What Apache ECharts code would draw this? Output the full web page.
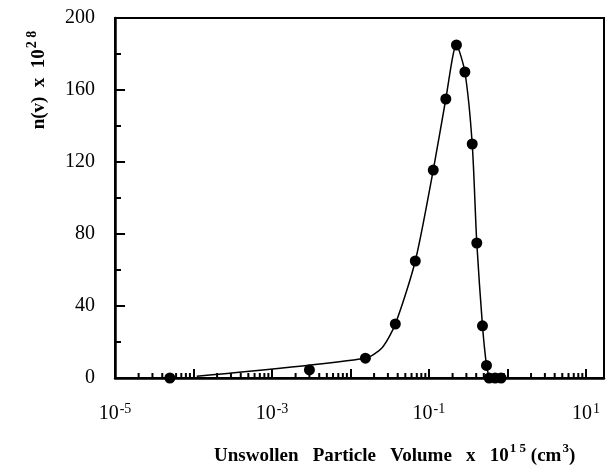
<!DOCTYPE html>
<html><head><meta charset="utf-8">
<script src="https://cdn.jsdelivr.net/npm/echarts@6/dist/echarts.min.js"></script>
<style>html,body{margin:0;padding:0;background:#fff}#c{width:607px;height:469px}</style>
</head><body><div id="c"></div>
<script>
// measured points (volume x 1e15 cm^3, n(v) x 1e28)
const pointVolumes = [5.0e-5, 0.0030, 0.0155, 0.0373, 0.067, 0.1135, 0.164, 0.224, 0.287, 0.356, 0.407, 0.481, 0.541, 0.585, 0.697, 0.83];
const pointCounts  = [0, 4.5, 11, 30, 65, 115.5, 155, 185, 170, 130, 75, 29, 7, 0, 0, 0];
// fitted curve drawn through the data
const curveVolumes = [1.1e-4, 0.0155, 0.0255, 0.0373, 0.067, 0.1135, 0.164, 0.224, 0.287, 0.356, 0.407, 0.481, 0.541, 0.585];
const curveCounts  = [1, 11, 17, 30, 65, 115.5, 155, 185, 170, 130, 75, 29, 7, 0];
// axes
const yTickValues = [0, 40, 80, 120, 160, 200];
const xLabelExponents = [-5, -3, -1, 1];
const xDecadeExponents = [-5, -4, -3, -2, -1, 0, 1];
const minorMultipliers = [2, 3, 4, 5, 6, 7, 8, 9];

const X_MIN = 1e-5, X_MAX = 17;
const minorTickVolumes = [];
xDecadeExponents.forEach(e => minorMultipliers.forEach(k => {
  const v = k * Math.pow(10, e);
  if (v < X_MAX) minorTickVolumes.push([v]);
}));

const serif = 'Liberation Serif';
const chart = echarts.init(document.getElementById('c'), null, {renderer: 'canvas'});
chart.setOption({
  animation: false,
  backgroundColor: '#fff',
  grid: {left: 115, right: 2, top: 18, bottom: 91, show: true, borderColor: '#000', borderWidth: 2, backgroundColor: 'transparent'},
  xAxis: {
    type: 'log', logBase: 10, min: X_MIN, max: X_MAX, interval: 1,
    axisLine: {lineStyle: {color: '#000', width: 2.5}},
    axisTick: {inside: true, length: 9, lineStyle: {color: '#000', width: 2}},
    splitLine: {show: false},
    axisLabel: {
      margin: 24, color: '#000',
      formatter: v => {
        const l = Math.log10(v), e = Math.round(l);
        if (Math.abs(l - e) > 1e-6 || xLabelExponents.indexOf(e) < 0) return '';
        return '{b|10}{s|' + e + '}';
      },
      rich: {
        b: {fontFamily: serif, fontSize: 20, color: '#000', lineHeight: 22, verticalAlign: 'bottom'},
        s: {fontFamily: serif, fontSize: 14, color: '#000', lineHeight: 22, verticalAlign: 'top', padding: [0, 0, 6, 1]}
      }
    }
  },
  yAxis: {
    type: 'value', min: 0, max: 200, interval: 40,
    axisLine: {show: true, lineStyle: {color: '#000', width: 2.5}},
    axisTick: {show: true, inside: true, length: 10, lineStyle: {color: '#000', width: 2}},
    minorTick: {show: true, splitNumber: 2, length: 6, lineStyle: {color: '#000', width: 2}},
    splitLine: {show: false},
    axisLabel: {
      margin: 20, color: '#000', fontFamily: serif, fontSize: 20,
      formatter: v => yTickValues.indexOf(v) >= 0 ? String(v) : ''
    }
  },
  graphic: [
    {
      type: 'text', left: 214, top: 442,
      style: {
        text: '{b|Unswollen   Particle   Volume   x   10}{s|1 5}{b| (cm}{s|3}{b|)}',
        rich: {
          b: {fontFamily: serif, fontWeight: 'bold', fontSize: 19, fill: '#000', lineHeight: 24, verticalAlign: 'bottom'},
          s: {fontFamily: serif, fontWeight: 'bold', fontSize: 13, fill: '#000', lineHeight: 24, verticalAlign: 'top', padding: [0, 0, 4, 1]}
        }
      }
    },
    {
      type: 'text', x: 37, y: 80, rotation: Math.PI / 2,
      style: {
        text: '{b|n(v)  x  10}{s|2 8}',
        align: 'center', verticalAlign: 'middle',
        rich: {
          b: {fontFamily: serif, fontWeight: 'bold', fontSize: 19, fill: '#000', lineHeight: 24, verticalAlign: 'bottom'},
          s: {fontFamily: serif, fontWeight: 'bold', fontSize: 14, fill: '#000', lineHeight: 24, verticalAlign: 'top', padding: [0, 0, 3, 1]}
        }
      }
    }
  ],
  series: [
    {
      type: 'line', data: curveVolumes.map((v, i) => [v, curveCounts[i]]),
      smooth: 0.25, showSymbol: false, lineStyle: {color: '#000', width: 1.5}, silent: true
    },
    {
      type: 'scatter', data: pointVolumes.map((v, i) => [v, pointCounts[i]]),
      symbol: 'circle', symbolSize: 11, itemStyle: {color: '#000', opacity: 1}, silent: true
    },
    {
      type: 'custom', data: minorTickVolumes, silent: true, clip: false,
      renderItem: (params, api) => {
        const p = api.coord([api.value(0), 0]);
        return {type: 'line', shape: {x1: p[0], y1: p[1], x2: p[0], y2: p[1] - 5},
                style: {stroke: '#000', lineWidth: 2}};
      }
    }
  ]
});
</script></body></html>
